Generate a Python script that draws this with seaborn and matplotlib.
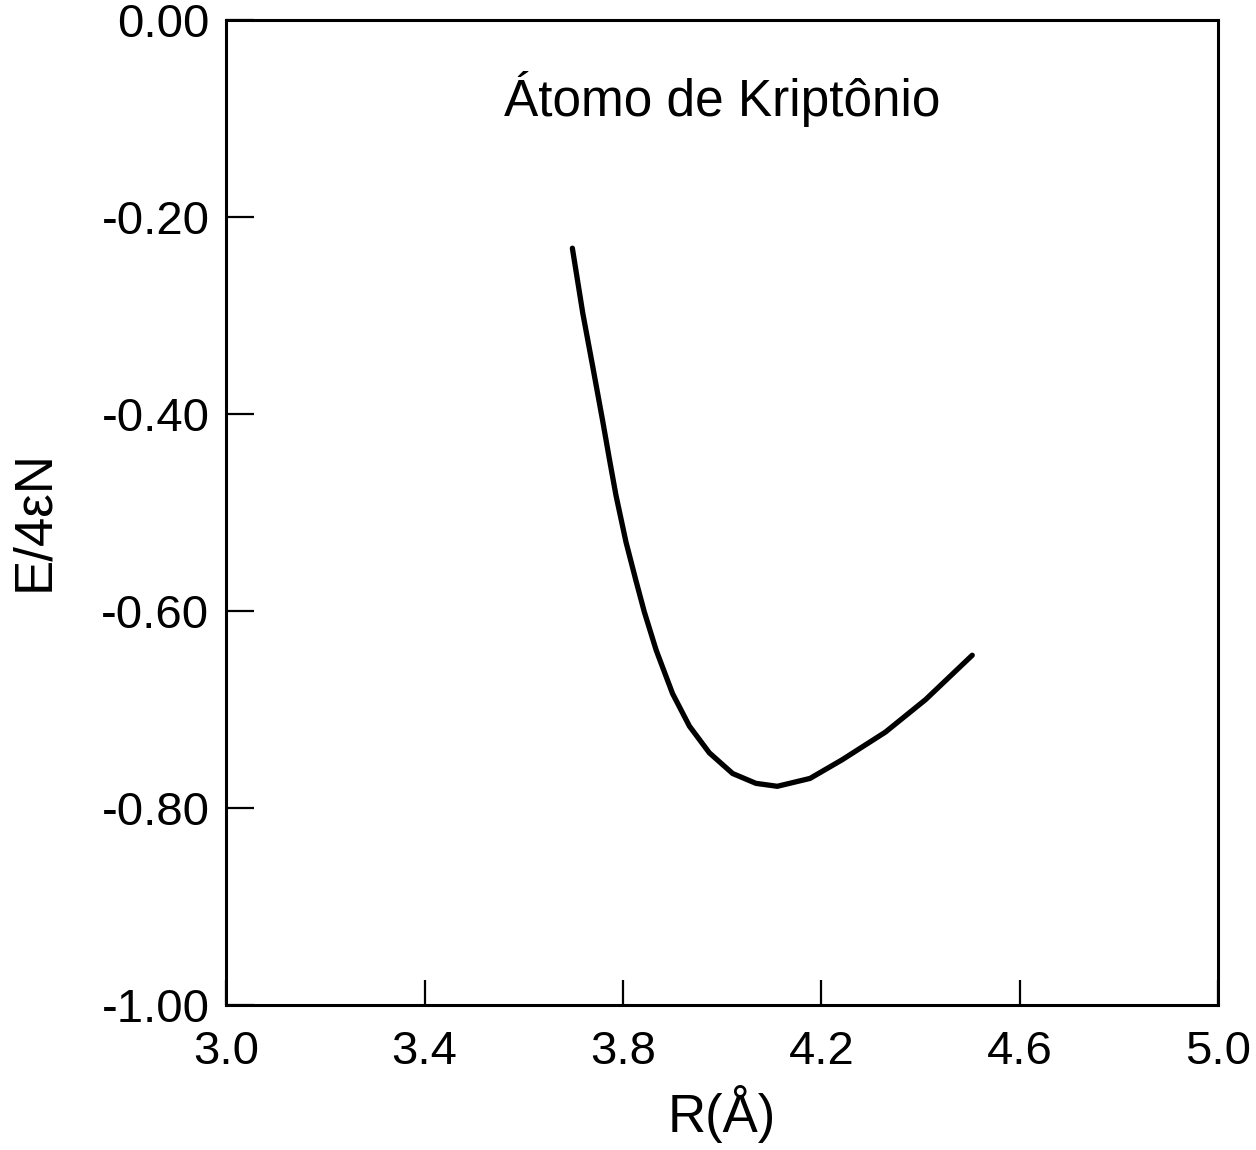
import numpy as np
import pandas as pd
import matplotlib
matplotlib.use("Agg")
import matplotlib.pyplot as plt
import seaborn as sns

# curve
r_vals = [3.698, 3.719, 3.739, 3.759, 3.773, 3.786, 3.806, 3.826, 3.843, 3.867,
          3.900, 3.934, 3.974, 4.021, 4.068, 4.111, 4.177, 4.242, 4.329, 4.410, 4.504]
e_vals = [-0.232, -0.298, -0.352, -0.407, -0.447, -0.483, -0.530, -0.569, -0.601, -0.640,
          -0.684, -0.717, -0.744, -0.765, -0.775, -0.778, -0.770, -0.751, -0.723, -0.690, -0.645]

x_ticks = [3.0, 3.4, 3.8, 4.2, 4.6, 5.0]
x_labels = ["3.0", "3.4", "3.8", "4.2", "4.6", "5.0"]
y_ticks = [0.0, -0.2, -0.4, -0.6, -0.8, -1.0]
y_labels = ["0.00", "-0.20", "-0.40", "-0.60", "-0.80", "-1.00"]

df = pd.DataFrame({"R": r_vals, "E": e_vals})

sns.set_style("ticks")
plt.rcParams["font.family"] = ["Liberation Sans", "DejaVu Sans"]
plt.rcParams["text.color"] = "black"
plt.rcParams["axes.labelcolor"] = "black"
plt.rcParams["xtick.color"] = "black"
plt.rcParams["ytick.color"] = "black"

fig = plt.figure(figsize=(12.56, 11.5), dpi=100)
ax = fig.add_axes([0.180, 0.126, 0.790, 0.857])

sns.lineplot(data=df, x="R", y="E", ax=ax, color="black", linewidth=3.8,
             sort=False, solid_capstyle="round", solid_joinstyle="round")

ax.set_xlim(3.0, 5.0)
ax.set_ylim(-1.0, 0.0)
ax.set_xticks(x_ticks)
ax.set_xticklabels(x_labels)
ax.set_yticks(y_ticks)
ax.set_yticklabels(y_labels)

ax.tick_params(axis="x", direction="in", length=18, width=1.6, labelsize=34, pad=18)
ax.tick_params(axis="y", direction="in", length=20, width=1.6, labelsize=34, pad=12)
for s in ax.spines.values():
    s.set_linewidth(2.2)
    s.set_color("black")

ax.set_xlabel("R(Å)", fontsize=38, labelpad=8)
ax.set_ylabel("E/4εN", fontsize=38)
ax.yaxis.set_label_coords(-0.168, 0.492)

ax.text(0.500, 0.919, "Átomo de Kriptônio", transform=ax.transAxes,
        ha="center", va="center", fontsize=37)

fig.savefig("out.png", dpi=100, facecolor="white")
